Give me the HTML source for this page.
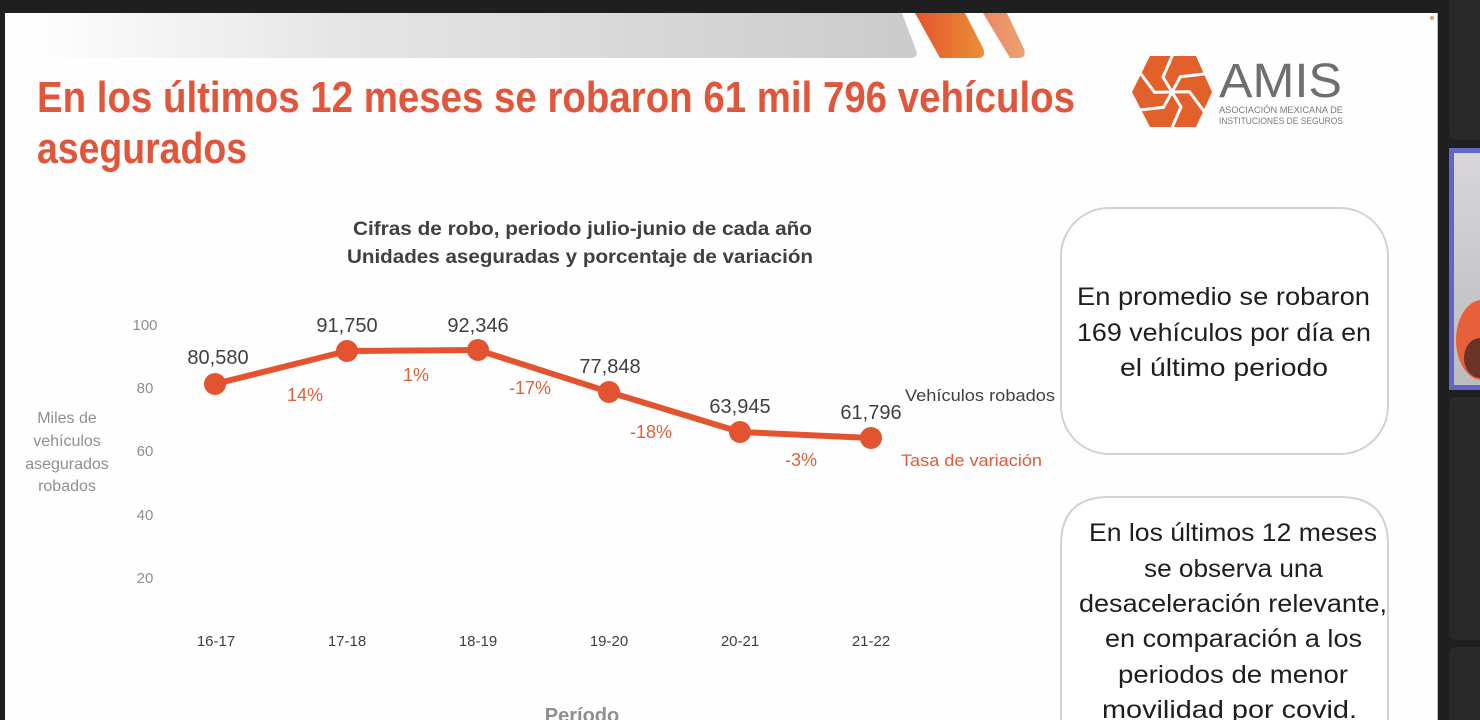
<!DOCTYPE html>
<html>
<head>
<meta charset="utf-8">
<style>
  html,body{margin:0;padding:0;background:#1f1f1f;width:1480px;height:720px;overflow:hidden;}
  svg{display:block;}
  text{font-family:"Liberation Sans",sans-serif;}
</style>
</head>
<body>
<svg width="1480" height="720" viewBox="0 0 1480 720" xmlns="http://www.w3.org/2000/svg">
  <defs>
    <linearGradient id="gb" x1="20" y1="0" x2="918" y2="0" gradientUnits="userSpaceOnUse">
      <stop offset="0" stop-color="#ffffff"/>
      <stop offset="0.35" stop-color="#e6e6e6"/>
      <stop offset="1" stop-color="#cbcbcb"/>
    </linearGradient>
    <linearGradient id="s1" x1="915" y1="0" x2="985" y2="0" gradientUnits="userSpaceOnUse">
      <stop offset="0" stop-color="#e4552c"/>
      <stop offset="1" stop-color="#ea9035"/>
    </linearGradient>
    <linearGradient id="s2" x1="983" y1="0" x2="1026" y2="0" gradientUnits="userSpaceOnUse">
      <stop offset="0" stop-color="#ec8764"/>
      <stop offset="1" stop-color="#eba36e"/>
    </linearGradient>
    <linearGradient id="cam" x1="0" y1="153" x2="0" y2="385" gradientUnits="userSpaceOnUse">
      <stop offset="0" stop-color="#d8d6da"/>
      <stop offset="0.5" stop-color="#c9c8cc"/>
      <stop offset="1" stop-color="#bdbcc0"/>
    </linearGradient>
  </defs>

  <!-- dark background -->
  <rect x="0" y="0" width="1480" height="720" fill="#1f1f1f"/>

  <!-- slide -->
  <rect x="5" y="13" width="1433" height="707" fill="#fefefe"/>
  <rect x="1437" y="13" width="1" height="707" fill="#bdbdbd"/>
  <circle cx="1432" cy="18" r="2" fill="#d9a070"/>

  <!-- banner -->
  <path d="M20,13 L902,13 L916,50 Q919,58 910,58 L20,58 Z" fill="url(#gb)"/>
  <path d="M915,13 L965,13 L983,48 Q987,58 977,58 L940,58 Z" fill="url(#s1)"/>
  <path d="M983,13 L1007,13 L1024,49 Q1027,58 1018,58 L1010,58 Z" fill="url(#s2)"/>

  <!-- title -->
  <text x="37" y="112" font-size="44" font-weight="bold" fill="#e1553a" textLength="1038" lengthAdjust="spacingAndGlyphs">En los últimos 12 meses se robaron 61 mil 796 vehículos</text>
  <text x="37" y="163" font-size="44" font-weight="bold" fill="#e1553a" textLength="210" lengthAdjust="spacingAndGlyphs">asegurados</text>

  <!-- logo -->
  <polygon points="1132,92 1150,56 1196,56 1212,92 1196,127 1150,127" fill="#e2602a"/>
  <g transform="translate(1172,92)" stroke="#ffffff" stroke-width="3" fill="none" stroke-linejoin="miter">
    <polyline points="0,0 -9,-15 1,-38"/>
    <polyline points="0,0 -9,-15 1,-38" transform="rotate(60)"/>
    <polyline points="0,0 -9,-15 1,-38" transform="rotate(120)"/>
    <polyline points="0,0 -9,-15 1,-38" transform="rotate(180)"/>
    <polyline points="0,0 -9,-15 1,-38" transform="rotate(240)"/>
    <polyline points="0,0 -9,-15 1,-38" transform="rotate(300)"/>
  </g>
  <text x="1219" y="97" font-size="48" fill="#6e6e6e" textLength="123" lengthAdjust="spacingAndGlyphs">AMIS</text>
  <text x="1219" y="113" font-size="9.5" fill="#7a7a7a" textLength="124" lengthAdjust="spacingAndGlyphs">ASOCIACIÓN  MEXICANA  DE</text>
  <text x="1219" y="124" font-size="9.5" fill="#7a7a7a" textLength="124" lengthAdjust="spacingAndGlyphs">INSTITUCIONES DE SEGUROS</text>

  <!-- chart title -->
  <text x="353" y="235" font-size="19" font-weight="bold" fill="#404040" textLength="459" lengthAdjust="spacingAndGlyphs">Cifras de robo, periodo julio-junio de cada año</text>
  <text x="347" y="263" font-size="19" font-weight="bold" fill="#404040" textLength="466" lengthAdjust="spacingAndGlyphs">Unidades aseguradas y porcentaje de variación</text>

  <!-- y axis ticks -->
  <g font-size="15" fill="#8f8f8f" text-anchor="middle">
    <text x="145" y="330">100</text>
    <text x="145" y="393">80</text>
    <text x="145" y="456">60</text>
    <text x="145" y="520">40</text>
    <text x="145" y="583">20</text>
  </g>
  <!-- y axis title -->
  <g font-size="16" fill="#8f8f8f" text-anchor="middle">
    <text x="67" y="423">Miles de</text>
    <text x="67" y="446">vehículos</text>
    <text x="67" y="469">asegurados</text>
    <text x="67" y="491">robados</text>
  </g>

  <!-- x labels -->
  <g font-size="15" fill="#404040" text-anchor="middle">
    <text x="216" y="646">16-17</text>
    <text x="347" y="646">17-18</text>
    <text x="478" y="646">18-19</text>
    <text x="609" y="646">19-20</text>
    <text x="740" y="646">20-21</text>
    <text x="871" y="646">21-22</text>
  </g>
  <text x="582" y="722" font-size="20" font-weight="bold" fill="#8f8f8f" text-anchor="middle">Período</text>

  <!-- series -->
  <polyline points="215,384 347,351 478,350 609,392 740,432 871,438" fill="none" stroke="#e4532f" stroke-width="6" stroke-linejoin="round"/>
  <g fill="#e4532f">
    <circle cx="215" cy="384" r="11"/>
    <circle cx="347" cy="351" r="11"/>
    <circle cx="478" cy="350" r="11"/>
    <circle cx="609" cy="392" r="11"/>
    <circle cx="740" cy="432" r="11"/>
    <circle cx="871" cy="438" r="11"/>
  </g>

  <!-- data labels -->
  <g font-size="20" fill="#404040" text-anchor="middle">
    <text x="218" y="364">80,580</text>
    <text x="347" y="332">91,750</text>
    <text x="478" y="332">92,346</text>
    <text x="610" y="373">77,848</text>
    <text x="740" y="413">63,945</text>
    <text x="871" y="419">61,796</text>
  </g>
  <g font-size="18" fill="#e0603c" text-anchor="middle">
    <text x="305" y="401">14%</text>
    <text x="416" y="381">1%</text>
    <text x="530" y="394">-17%</text>
    <text x="651" y="438">-18%</text>
    <text x="801" y="466">-3%</text>
  </g>
  <text x="905" y="401" font-size="17" fill="#404040" textLength="150" lengthAdjust="spacingAndGlyphs">Vehículos robados</text>
  <text x="901" y="466" font-size="17" fill="#e05a3a" textLength="141" lengthAdjust="spacingAndGlyphs">Tasa de variación</text>

  <!-- box 1 -->
  <rect x="1061" y="208" width="327" height="246" rx="48" ry="48" fill="#ffffff" stroke="#d2d2d2" stroke-width="2"/>
  <g font-size="25" fill="#1e1e1e">
    <text x="1077" y="305" textLength="293" lengthAdjust="spacingAndGlyphs">En promedio se robaron</text>
    <text x="1077" y="341" textLength="294" lengthAdjust="spacingAndGlyphs">169 vehículos por día en</text>
    <text x="1120" y="376" textLength="208" lengthAdjust="spacingAndGlyphs">el último periodo</text>
  </g>

  <!-- box 2 (open at bottom, clipped by frame) -->
  <path d="M1061,720 L1061,545 Q1061,497 1109,497 L1340,497 Q1388,497 1388,545 L1388,720" fill="#ffffff" stroke="#d2d2d2" stroke-width="2"/>
  <g font-size="25" fill="#1e1e1e">
    <text x="1089" y="541" textLength="288" lengthAdjust="spacingAndGlyphs">En los últimos 12 meses</text>
    <text x="1144" y="577" textLength="179" lengthAdjust="spacingAndGlyphs">se observa una</text>
    <text x="1079" y="612" textLength="308" lengthAdjust="spacingAndGlyphs">desaceleración relevante,</text>
    <text x="1105" y="647" textLength="257" lengthAdjust="spacingAndGlyphs">en comparación a los</text>
    <text x="1118" y="683" textLength="230" lengthAdjust="spacingAndGlyphs">periodos de menor</text>
    <text x="1102" y="718" textLength="255" lengthAdjust="spacingAndGlyphs">movilidad por covid.</text>
  </g>

  <!-- right sidebar -->
  <rect x="1438" y="0" width="42" height="720" fill="#1f1f1f"/>
  <path d="M1449,0 L1480,0 L1480,140 L1457,140 Q1449,140 1449,132 Z" fill="#292929"/>
  <rect x="1449" y="148" width="31" height="242" fill="#6366c9"/>
  <rect x="1454" y="153" width="26" height="232" fill="url(#cam)"/>
  <ellipse cx="1482" cy="340" rx="26" ry="40" fill="#e8603a"/>
  <ellipse cx="1480" cy="358" rx="16" ry="20" fill="#6b3328"/>
  <path d="M1457,397 L1480,397 L1480,640 L1457,640 Q1449,640 1449,632 L1449,405 Q1449,397 1457,397 Z" fill="#292929"/>
  <path d="M1457,647 L1480,647 L1480,720 L1449,720 L1449,655 Q1449,647 1457,647 Z" fill="#292929"/>
</svg>
</body>
</html>
